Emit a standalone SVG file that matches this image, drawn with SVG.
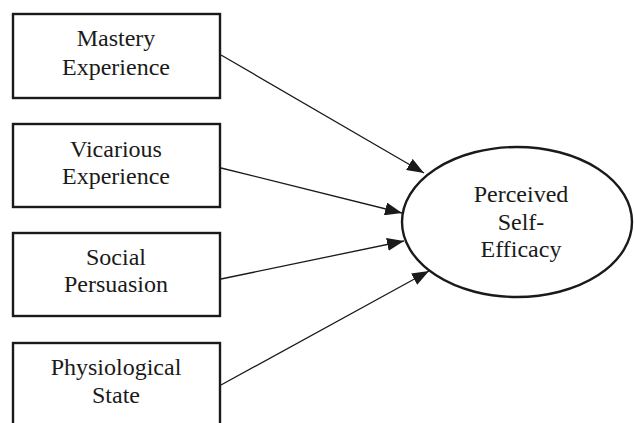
<svg xmlns="http://www.w3.org/2000/svg" width="634" height="423" viewBox="0 0 634 423">
<style>
.box{fill:#fff;stroke:#1a1a1a;stroke-width:2.4}
.t{font-family:"Liberation Serif","Times New Roman",serif;font-size:24px;fill:#1a1a1a;text-anchor:middle}
.c{stroke:#1a1a1a;stroke-width:1.3;fill:none;marker-end:url(#ah)}
</style>
<defs>
<marker id="ah" viewBox="0 0 17 13" refX="17" refY="6.5" markerWidth="17" markerHeight="13" markerUnits="userSpaceOnUse" orient="auto">
<path d="M0,0 L17,6.5 L0,13 Z" fill="#1a1a1a"/>
</marker>
</defs>
<rect width="634" height="423" fill="#fff"/>
<g id="connectors">
<line class="c" x1="221" y1="55" x2="424" y2="173"/>
<line class="c" x1="221" y1="168" x2="402" y2="213"/>
<line class="c" x1="221" y1="279" x2="404" y2="241"/>
<line class="c" x1="221" y1="385" x2="429" y2="271"/>
</g>
<g id="mastery">
<rect class="box" x="13" y="14" width="207" height="84"/>
<text class="t" x="116" y="46">Mastery</text>
<text class="t" x="116" y="75">Experience</text>
</g>
<g id="vicarious">
<rect class="box" x="13" y="124" width="207" height="83"/>
<text class="t" x="116" y="157">Vicarious</text>
<text class="t" x="116" y="184">Experience</text>
</g>
<g id="social">
<rect class="box" x="13" y="233" width="207" height="83"/>
<text class="t" x="116" y="265">Social</text>
<text class="t" x="116" y="292">Persuasion</text>
</g>
<g id="physiological">
<rect class="box" x="13" y="343" width="207" height="100"/>
<text class="t" x="116" y="375">Physiological</text>
<text class="t" x="116" y="403">State</text>
</g>
<g id="self-efficacy">
<ellipse class="box" cx="517" cy="222" rx="115" ry="75"/>
<text class="t" x="521" y="202">Perceived</text>
<text class="t" x="521" y="230">Self-</text>
<text class="t" x="521" y="257">Efficacy</text>
</g>
</svg>
